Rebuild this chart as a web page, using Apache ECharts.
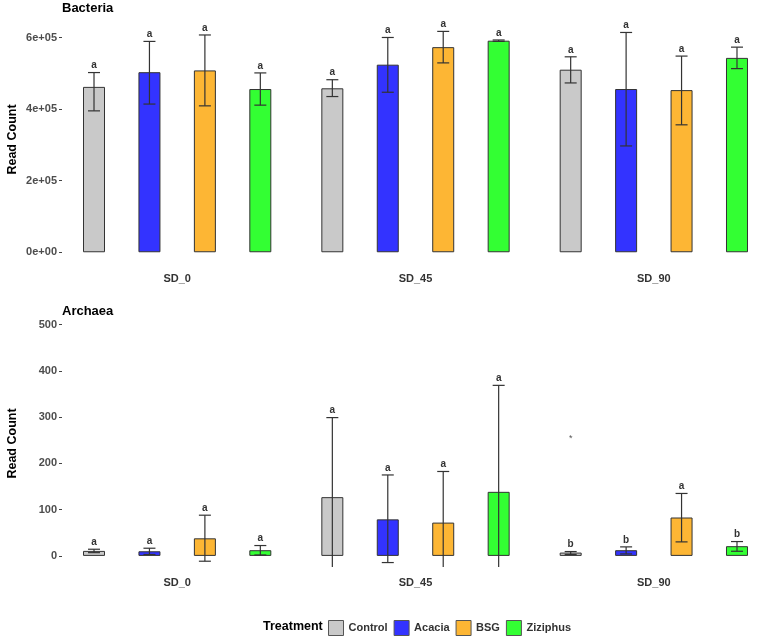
<!DOCTYPE html>
<html>
<head>
<meta charset="utf-8">
<script src="https://cdn.jsdelivr.net/npm/echarts@6/dist/echarts.min.js"></script>
<style>
  html, body { margin: 0; padding: 0; background: #fff; }
  #main { width: 767px; height: 643px; }
</style>
</head>
<body>
<div id="main"></div>
<script>
const sites = ['SD_0', 'SD_45', 'SD_90'];
const treatments = ['Control', 'Acacia', 'BSG', 'Ziziphus'];
const colors = ['#c9c9c9', '#3333ff', '#fdb634', '#33ff33'];

// Bacteria (rows = treatment, columns = site)
const bacMean = [
  [462000, 458000, 510000],
  [503000, 524000, 456000],
  [508000, 573000, 453000],
  [456000, 591000, 543000]
];
const bacLow = [
  [395000, 435000, 473000],
  [414000, 447000, 297000],
  [409000, 529000, 356000],
  [411000, 589000, 513000]
];
const bacHigh = [
  [502000, 482000, 546000],
  [589000, 600000, 614000],
  [607000, 617000, 548000],
  [501000, 593000, 573000]
];
const bacLetters = [
  ['a', 'a', 'a'],
  ['a', 'a', 'a'],
  ['a', 'a', 'a'],
  ['a', 'a', 'a']
];

// Archaea
const arcMean = [
  [10.8, 127, 7.2],
  [10, 79, 12.3],
  [38, 72, 83],
  [12.3, 138.5, 21]
];
const arcLow = [
  [7, -40, 3],
  [3, -14.4, 4.3],
  [-11.5, -40, 30.3],
  [2, -40, 10]
];
const arcHigh = [
  [14.4, 299, 9.4],
  [16.6, 175, 19.5],
  [88, 182.5, 135],
  [22.4, 368.7, 31]
];
const arcLetters = [
  ['a', 'a', 'b'],
  ['a', 'a', 'b'],
  ['a', 'a', 'a'],
  ['a', 'a', 'b']
];
const arcOutliers = [
  [null, null, 253],
  [null, null, null],
  [null, null, null],
  [null, null, null]
];

const bacTicks = [0, 200000, 400000, 600000];
const arcTicks = [0, 100, 200, 300, 400, 500];

const FONT = 'Liberation Sans, Arial, sans-serif';
const BAR_W = 22;
const BAR_GAP = 1.52;

function errorSeries(low, high, letters, outliers, idx) {
  const data = [];
  treatments.forEach((t, ti) => {
    sites.forEach((s, si) => data.push([si, ti, low[ti][si], high[ti][si]]));
  });
  return {
    type: 'custom',
    xAxisIndex: idx,
    yAxisIndex: idx,
    clip: true,
    silent: true,
    z: 5,
    encode: { x: 0, y: [2, 3] },
    data: data,
    renderItem: function (params, api) {
      const si = api.value(0), ti = api.value(1);
      const step = BAR_W * (1 + BAR_GAP);
      const cx = api.coord([si, 0])[0] + (ti - 1.5) * step;
      const yLo = api.coord([si, api.value(2)])[1];
      const yHi = api.coord([si, api.value(3)])[1];
      const st = { stroke: '#333', lineWidth: 1.2 };
      const children = [
        { type: 'line', shape: { x1: cx, y1: yLo, x2: cx, y2: yHi }, style: st },
        { type: 'line', shape: { x1: cx - 6, y1: yHi, x2: cx + 6, y2: yHi }, style: st },
        { type: 'line', shape: { x1: cx - 6, y1: yLo, x2: cx + 6, y2: yLo }, style: st },
        {
          type: 'text',
          style: {
            text: letters[ti][si], x: cx, y: yHi - 2,
            align: 'center', verticalAlign: 'bottom',
            font: 'bold 10px ' + FONT, fill: '#333'
          }
        }
      ];
      const o = outliers ? outliers[ti][si] : null;
      if (o != null) {
        children.push({
          type: 'text',
          style: {
            text: '*', x: cx, y: api.coord([si, o])[1],
            align: 'center', verticalAlign: 'middle',
            font: '9px ' + FONT, fill: '#555'
          }
        });
      }
      return { type: 'group', children: children };
    }
  };
}

const series = [];
treatments.forEach((t, ti) => {
  series.push({
    type: 'bar', name: t, xAxisIndex: 0, yAxisIndex: 0,
    data: bacMean[ti], barWidth: BAR_W, barGap: (BAR_GAP * 100) + '%',
    itemStyle: { color: colors[ti], borderColor: '#333', borderWidth: 1 }
  });
});
treatments.forEach((t, ti) => {
  series.push({
    type: 'bar', name: t, xAxisIndex: 1, yAxisIndex: 1,
    data: arcMean[ti], barWidth: BAR_W, barGap: (BAR_GAP * 100) + '%',
    itemStyle: { color: colors[ti], borderColor: '#333', borderWidth: 1 }
  });
});
series.push(errorSeries(bacLow, bacHigh, bacLetters, null, 0));
series.push(errorSeries(arcLow, arcHigh, arcLetters, arcOutliers, 1));

function xAxisCfg(gi) {
  return {
    type: 'category', gridIndex: gi, data: sites,
    axisLine: { show: false }, axisTick: { show: false },
    axisLabel: { margin: 10, fontFamily: FONT, fontWeight: 'bold', fontSize: 11, color: '#333' }
  };
}
function yAxisCfg(gi, min, max, ticks, fmt) {
  return {
    type: 'value', gridIndex: gi, min: min, max: max, offset: -4,
    name: 'Read Count', nameLocation: 'middle', nameGap: 43, nameRotate: 90,
    nameMoveOverlap: false,
    nameTextStyle: { fontFamily: FONT, fontWeight: 'bold', fontSize: 12.5, color: '#000' },
    axisLine: { show: false },
    splitLine: { show: false },
    axisTick: { show: true, length: 3, customValues: ticks, lineStyle: { color: '#444' } },
    axisLabel: {
      customValues: ticks, margin: 5, formatter: fmt,
      fontFamily: FONT, fontWeight: 'bold', fontSize: 11, color: '#4d4d4d'
    }
  };
}

const option = {
  animation: false,
  backgroundColor: '#fff',
  title: [
    { text: 'Bacteria', left: 62, top: 2, padding: 0,
      textStyle: { fontFamily: FONT, fontWeight: 'bold', fontSize: 13, color: '#000' } },
    { text: 'Archaea', left: 62, top: 305, padding: 0,
      textStyle: { fontFamily: FONT, fontWeight: 'bold', fontSize: 13, color: '#000' } },
    { text: 'Treatment', left: 263, top: 620, padding: 0,
      textStyle: { fontFamily: FONT, fontWeight: 'bold', fontSize: 12.5, color: '#000' } }
  ],
  legend: {
    data: treatments, left: 328, top: 620, padding: 0,
    icon: 'rect', itemWidth: 15, itemHeight: 15, itemGap: 6,
    itemStyle: { borderColor: '#555', borderWidth: 1 },
    textStyle: { fontFamily: FONT, fontWeight: 'bold', fontSize: 11, color: '#333' }
  },
  grid: [
    { left: 58, width: 715, top: 16, height: 247, outerBoundsMode: 'none' },
    { left: 58, width: 715, top: 320, height: 247, outerBoundsMode: 'none' }
  ],
  xAxis: [xAxisCfg(0), xAxisCfg(1)],
  yAxis: [
    yAxisCfg(0, -30000, 660000, bacTicks, v => v === 0 ? '0e+00' : (v / 100000) + 'e+05'),
    yAxisCfg(1, -24, 510, arcTicks, v => String(v))
  ],
  series: series
};

const chart = echarts.init(document.getElementById('main'));
chart.setOption(option);
</script>
</body>
</html>
